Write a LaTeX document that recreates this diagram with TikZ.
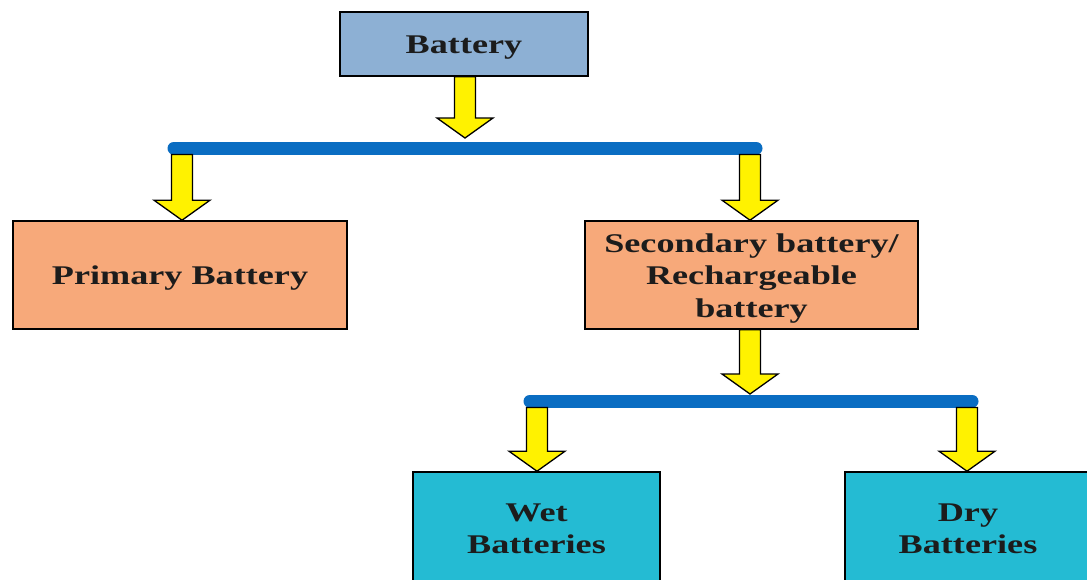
\documentclass[tikz,border=0pt]{standalone}
\usepackage{fontspec}
\setmainfont{Liberation Serif}
\usetikzlibrary{calc}
\definecolor{boxblue}{HTML}{8DB0D4}
\definecolor{boxorange}{HTML}{F7A97A}
\definecolor{boxcyan}{HTML}{24BBD3}
\definecolor{barblue}{HTML}{0A6DC2}
\definecolor{txt}{HTML}{1C1C1C}
\newcommand\wtext[1]{\raisebox{-3pt}[\height][\depth]{\scalebox{1.34}[1]{\begin{tabular}{@{}c@{}}#1\end{tabular}}}}
\newcommand\blockarrow[2]{%
  \draw[yarrow] let \p1=(#1), \p2=(#2) in
    (\x1-10.5pt,\y1) -- (\x1+10.5pt,\y1) -- (\x1+10.5pt,\y2+20pt) -- (\x1+28pt,\y2+20pt)
    -- (\x1,\y2) -- (\x1-28pt,\y2+20pt) -- (\x1-10.5pt,\y2+20pt) -- cycle;}
\tikzset{
  box/.style={draw=black, line width=1.6pt, rectangle, inner sep=0pt,
    font=\fontsize{27}{32.5}\selectfont\bfseries, text=txt},
  bar/.style={draw=barblue, line width=13pt, line cap=round},
  yarrow/.style={fill=yellow, draw=black, line width=1.3pt, line join=miter},
}
\begin{document}
\begin{tikzpicture}[x=1pt,y=-1pt]
\path[use as bounding box] (0,0) rectangle (1087,579);
\fill[white] (0,0) rectangle (1087,579);
\begin{scope}
\clip (0,0) rectangle (1087,579);
% boxes
\node[box, fill=boxblue, minimum width=248pt, minimum height=64pt] (battery) at (464,44) {\wtext{Battery}};
\node[box, fill=boxorange, minimum width=334pt, minimum height=108pt] (primary) at (180,275) {\wtext{Primary Battery}};
\node[box, fill=boxorange, minimum width=333pt, minimum height=108pt] (secondary) at (751.5,275) {\wtext{Secondary battery/\\Rechargeable\\battery}};
\node[box, fill=boxcyan, minimum width=247pt, minimum height=112pt] (wet) at (536.5,528) {\wtext{Wet\\Batteries}};
\node[box, fill=boxcyan, minimum width=246pt, minimum height=112pt] (dry) at (968,528) {\wtext{Dry\\Batteries}};
% bars
\coordinate (b1L) at (174,148);
\coordinate (b1R) at (756,148);
\coordinate (b2L) at (530,401);
\coordinate (b2R) at (972,401);
\draw[bar] (b1L) -- (b1R);
\draw[bar] (b2L) -- (b2R);
% arrow anchors
\coordinate (t1) at (465,138);
\coordinate (s2) at (182,154.5);
\coordinate (s3) at (750,154.5);
\coordinate (t4) at (750,394);
\coordinate (s5) at (537,407.5);
\coordinate (s6) at (967,407.5);
\blockarrow{t1 |- battery.south}{t1}
\blockarrow{s2}{s2 |- primary.north}
\blockarrow{s3}{s3 |- secondary.north}
\blockarrow{t4 |- secondary.south}{t4}
\blockarrow{s5}{s5 |- wet.north}
\blockarrow{s6}{s6 |- dry.north}
\end{scope}
\end{tikzpicture}
\end{document}
